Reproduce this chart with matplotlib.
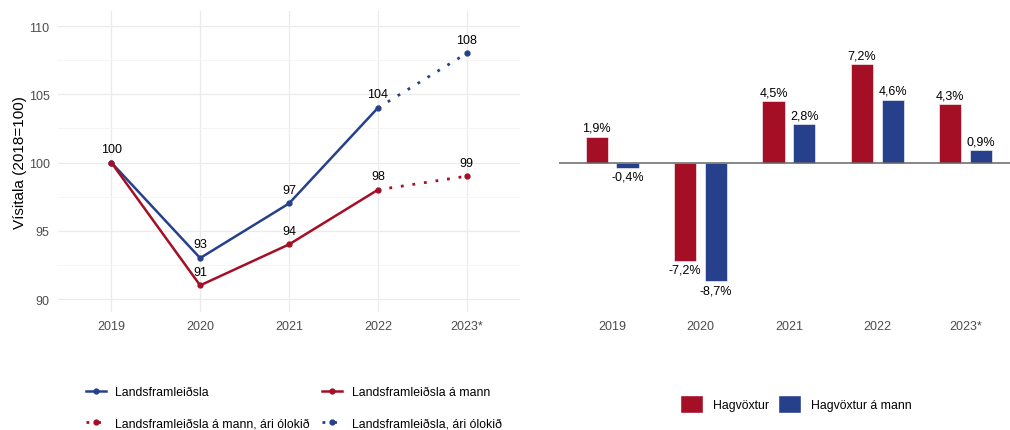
import matplotlib
matplotlib.use('Agg')
import matplotlib.pyplot as plt
from matplotlib.lines import Line2D
from matplotlib.patches import Patch
import numpy as np

plt.rcParams['font.family'] = ['Liberation Sans', 'DejaVu Sans']

# Data
years = ['2019', '2020', '2021', '2022', '2023*']
gdp_index = [100, 93, 97, 104, 108]        # Landsframleiðsla
gdp_pc_index = [100, 91, 94, 98, 99]       # Landsframleiðsla á mann
growth = [1.9, -7.2, 4.5, 7.2, 4.3]        # Hagvöxtur
growth_pc = [-0.4, -8.7, 2.8, 4.6, 0.9]    # Hagvöxtur á mann

red = '#A50F26'
blue = '#27408B'
tick_col = '#4D4D4D'
grid_col = '#EBEBEB'

fig = plt.figure(figsize=(10.1, 4.31), dpi=100)
ax1 = fig.add_axes([58 / 1010, 1 - 313 / 431, 462 / 1010, 301 / 431])
ax2 = fig.add_axes([559 / 1010, 1 - 313 / 431, 451 / 1010, 301 / 431])

# ---- left panel: index lines
x = np.arange(len(years))
labelled = set()
for vals, col in [(gdp_index, blue), (gdp_pc_index, red)]:
    ax1.plot(x[:4], vals[:4], color=col, lw=1.8, marker='o', ms=3.5, zorder=3)
    ax1.plot(x[3:], vals[3:], color=col, lw=2, ls=(0, (1, 3.2)), zorder=3)
    ax1.plot(x[4], vals[4], color=col, marker='o', ms=3.5, zorder=3)
    for xi, v in zip(x, vals):
        if (xi, v) in labelled:
            continue
        labelled.add((xi, v))
        ax1.annotate(str(v), (xi, v), xytext=(0, 5.5), textcoords='offset points',
                     ha='center', va='bottom', fontsize=9, color='black')

ax1.set_xlim(-0.6, 4.6)
ax1.set_ylim(89.05, 111.1)
ax1.set_yticks([90, 95, 100, 105, 110])
ax1.set_yticks([92.5, 97.5, 102.5, 107.5], minor=True)
ax1.set_xticks(x)
ax1.set_xticklabels(years)
ax1.grid(True, which='major', color=grid_col, lw=0.9)
ax1.grid(True, which='minor', axis='y', color='#F4F4F4', lw=0.6)
ax1.set_axisbelow(True)
for s in ax1.spines.values():
    s.set_visible(False)
ax1.tick_params(length=0, labelsize=9, colors=tick_col, pad=6)
ax1.tick_params(axis='y', which='minor', length=0)
ax1.set_ylabel('Vísitala (2018=100)', fontsize=11, color='black', labelpad=1.5)

# ---- right panel: growth bars
w = 0.25
off = 0.175
ax2.bar(x - off, growth, width=w, color=red, edgecolor='white', lw=0.4, zorder=2)
ax2.bar(x + off, growth_pc, width=w, color=blue, edgecolor='white', lw=0.4, zorder=2)
for xi, v in zip(x, growth):
    ax2.annotate(f'{v:.1f}%'.replace('.', ','), (xi - off, v),
                 xytext=(0, 2 if v >= 0 else -2), textcoords='offset points',
                 ha='center', va='bottom' if v >= 0 else 'top', fontsize=9)
for xi, v in zip(x, growth_pc):
    ax2.annotate(f'{v:.1f}%'.replace('.', ','), (xi + off, v),
                 xytext=(0, 2 if v >= 0 else -2), textcoords='offset points',
                 ha='center', va='bottom' if v >= 0 else 'top', fontsize=9)
ax2.axhline(0, color='#666666', lw=1.1, zorder=3)
ax2.set_xlim(-0.6, 4.5)
ax2.set_ylim(-10.95, 11.1)
ax2.set_xticks(x)
ax2.set_xticklabels(years)
ax2.set_yticks([])
for s in ax2.spines.values():
    s.set_visible(False)
ax2.tick_params(length=0, labelsize=9, colors=tick_col, pad=6)

# ---- legends
h_gdp = Line2D([], [], color=blue, lw=1.8, marker='o', ms=3.5)
h_pc = Line2D([], [], color=red, lw=1.8, marker='o', ms=3.5)
h_pc_d = Line2D([], [], color=red, lw=2, ls=(0, (1, 3.2)), marker='o', ms=3.5, markevery=[1])
h_gdp_d = Line2D([], [], color=blue, lw=2, ls=(0, (1, 3.2)), marker='o', ms=3.5, markevery=[1])
fig.legend([h_gdp, h_pc_d, h_pc, h_gdp_d],
           ['Landsframleiðsla', 'Landsframleiðsla á mann, ári ólokið',
            'Landsframleiðsla á mann', 'Landsframleiðsla, ári ólokið'],
           ncol=2, loc='upper left', bbox_to_anchor=(86 / 1010, 1 - 387 / 431),
           frameon=False, fontsize=8.8, handlelength=1.6, handletextpad=0.8,
           labelspacing=1.6, columnspacing=1.0, borderpad=0, borderaxespad=0)

fig.legend([Patch(facecolor=red, edgecolor='white'), Patch(facecolor=blue, edgecolor='white')],
           ['Hagvöxtur', 'Hagvöxtur á mann'],
           ncol=2, loc='center left', bbox_to_anchor=(680 / 1010, 1 - 405 / 431),
           frameon=False, fontsize=8.8, handlelength=1.9, handleheight=1.9,
           handletextpad=0.8, columnspacing=0.7, borderpad=0, borderaxespad=0)

fig.savefig('out.png', dpi=100, facecolor='white')
